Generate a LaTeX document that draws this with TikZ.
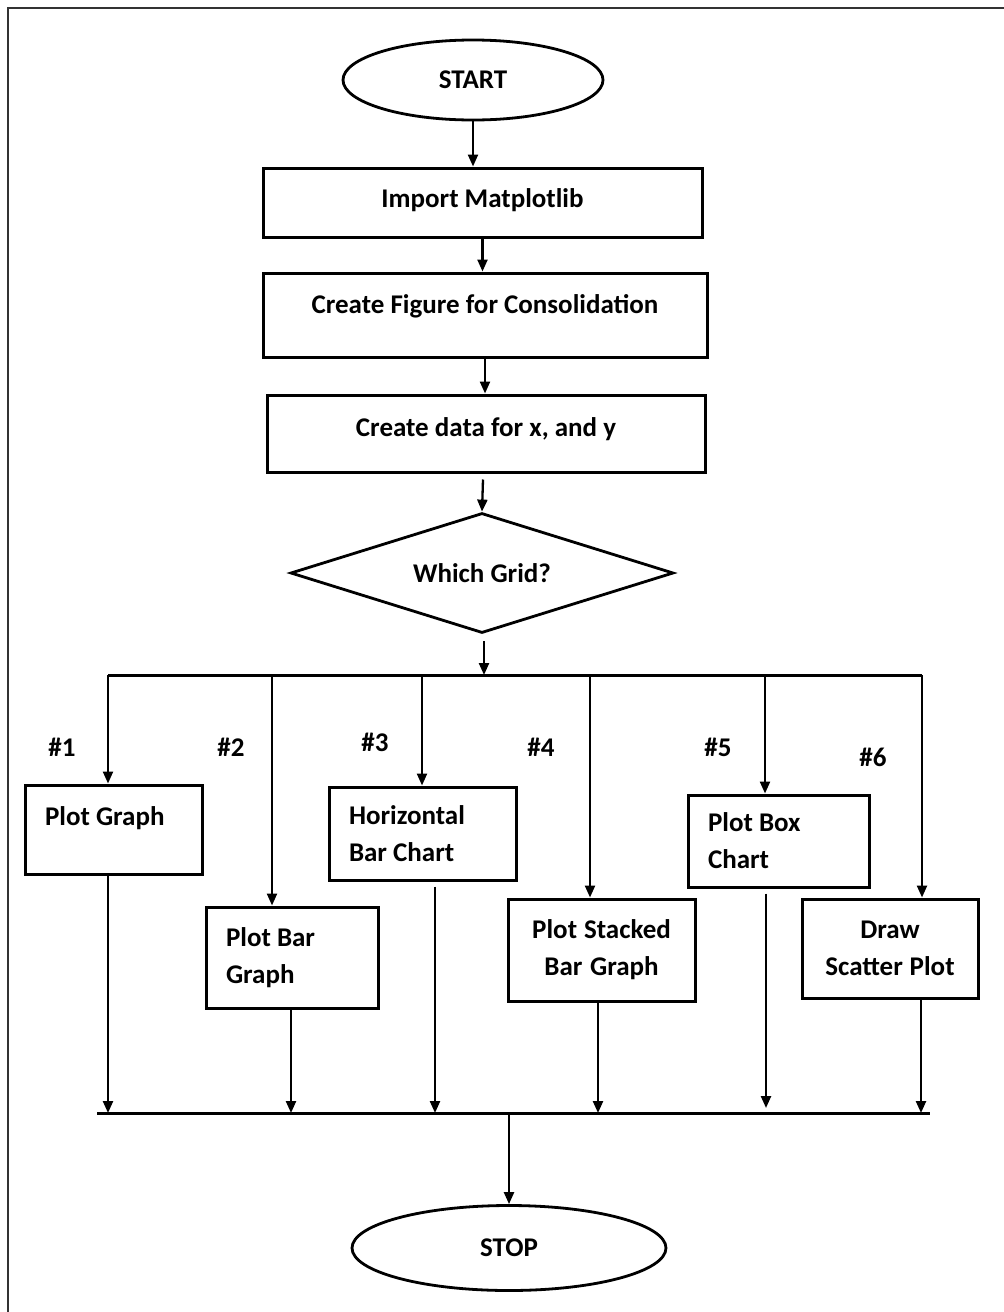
\documentclass[tikz,border=0pt]{standalone}
\usepackage{fontspec}
\setmainfont{Carlito}
\usetikzlibrary{shapes.geometric,arrows.meta,calc}
\newcommand{\natsp}{\spaceskip=0pt\relax\xspaceskip=0pt\relax}
\begin{document}
\begin{tikzpicture}[x=1pt,y=-1pt,
  txt/.style={font=\bfseries\fontsize{27}{37}\selectfont, text=black},
  boxshape/.style={txt, draw=black, line width=3pt, inner sep=0pt},
  topbox/.style={boxshape, align=center},
  leftbox/.style={boxshape, align=left, inner xsep=20pt},
  midbox/.style={boxshape, align=center, inner xsep=10pt},
  term/.style={txt, draw=black, line width=2.8pt, ellipse, inner sep=0pt},
  decis/.style={txt, draw=black, line width=2.8pt, diamond, aspect=3.2, inner sep=0pt},
  arr/.style={draw=black, line width=2.3pt, -{Triangle[length=12pt,width=10pt]}},
  busline/.style={draw=black, line width=3pt},
  tag/.style={txt, inner sep=0pt}
]
\useasboundingbox (0,0) rectangle (1004,1312);
\draw[draw=black!80, line width=2pt] (1004,8) -- (8,8) -- (8,1312);

% main column
\node[term, minimum width=260pt, minimum height=80pt] (start) at (473,80) {START};
\node[topbox, minimum width=439pt, text height=39pt, text depth=30pt] (imp) at (482.5,202.5) {Import Matplotlib};
\node[topbox, minimum width=444pt, text height=40pt, text depth=44pt] (fig) at (485,315) {Create Figure for Consolidation};
\node[topbox, minimum width=438pt, text height=41pt, text depth=36pt] (dat) at (486,433.5) {Create data for x, and y};
\node[decis, minimum width=383pt, minimum height=120pt] (grid) at (482,573) {Which Grid?};

% branch boxes
\node[leftbox, text width=137pt, text height=40pt, text depth=49pt] (pg) at (113.5,829.5) {\natsp Plot Graph};
\node[leftbox, text width=132pt, minimum height=101pt] (pbg) at (292,957.5) {\natsp Plot Bar\\Graph};
\node[leftbox, text width=147pt, minimum height=93pt] (hbc) at (422.5,833.5) {\natsp Horizontal\\Bar Chart};
\node[midbox, text width=167pt, minimum height=102pt] (psb) at (601.5,950) {\natsp Plot Stacked\\Bar Graph};
\node[leftbox, text width=141pt, minimum height=92pt] (pbc) at (778.5,841) {\natsp Plot Box\\Chart};
\node[midbox, text width=156pt, minimum height=99pt] (dsp) at (890,948.5) {\natsp Draw\\Scatter Plot};

\node[term, minimum width=314pt, minimum height=85pt] (stop) at (509,1248) {STOP};

% tags
\node[tag] (t1) at (62,747) {\#1};
\node[tag] (t2) at (231,747) {\#2};
\node[tag] (t3) at (375,742) {\#3};
\node[tag] (t4) at (541,747) {\#4};
\node[tag] (t5) at (718,747) {\#5};
\node[tag] (t6) at (873,757) {\#6};

% bus coordinates
\coordinate (b1) at (108,675);
\coordinate (b2) at (272,675);
\coordinate (b3) at (422,675);
\coordinate (b4) at (590,675);
\coordinate (b5) at (765,675);
\coordinate (b6) at (922,675);
\coordinate (c0) at (97,1113);
\coordinate (c1) at (108,1113);
\coordinate (c2) at (291,1113);
\coordinate (c3) at (435,1113);
\coordinate (c4) at (598,1113);
\coordinate (c5) at (766,1113);
\coordinate (c6) at (921,1113);
\coordinate (c7) at (930,1113);

% main arrows
\draw[arr] (start.south) -- (start.south |- imp.north);
\draw[arr] (imp.south) -- (imp.south |- fig.north);
\draw[arr] (fig.south) -- (fig.south |- dat.north);
\draw[arr] ($(dat.south)+(-3,6)$) -- (grid.north);
\draw[arr] ($(grid.south)+(2,7)$) -- ($(grid.south |- b1)+(2,0)$);

% top bus
\draw[busline] (b1) -- (b6);
\draw[arr] (b1) -- (b1 |- pg.north);
\draw[arr] (b2) -- (b2 |- pbg.north);
\draw[arr] (b3) -- (b3 |- hbc.north);
\draw[arr] (b4) -- (b4 |- psb.north);
\draw[arr] (b5) -- (b5 |- pbc.north);
\draw[arr] (b6) -- (b6 |- dsp.north);

% bottom bus
\draw[arr] (c1 |- pg.south) -- (c1);
\draw[arr] (c2 |- pbg.south) -- (c2);
\draw[arr] ($(c3 |- hbc.south)+(0,5)$) -- (c3);
\draw[arr] (c4 |- psb.south) -- (c4);
\draw[arr] ($(c5 |- pbc.south)+(0,5)$) -- ($(c5)+(0,-5)$);
\draw[arr] (c6 |- dsp.south) -- (c6);
\draw[busline] (c0) -- (c7);
\draw[arr] (stop.north |- c0) -- (stop.north);
\end{tikzpicture}
\end{document}
